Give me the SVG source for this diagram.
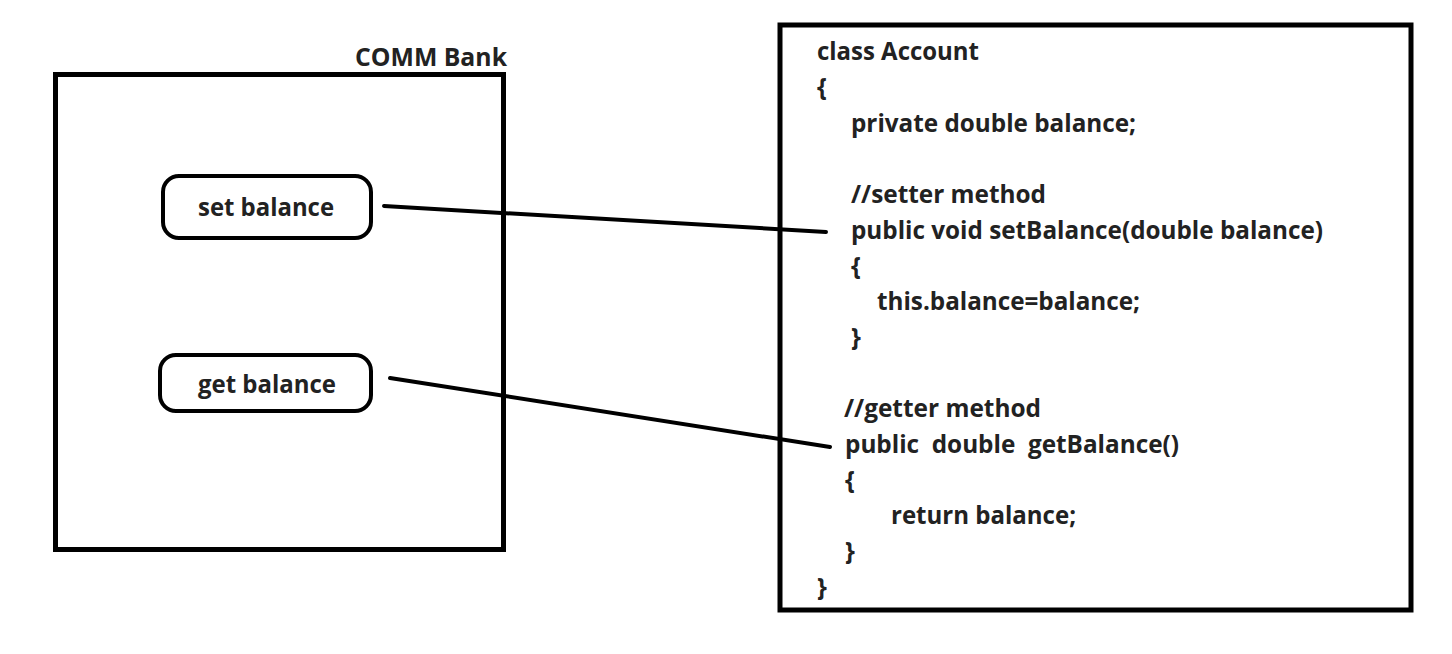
<svg xmlns="http://www.w3.org/2000/svg" width="1452" height="654" viewBox="0 0 1452 654">
<style>
.box{fill:#fff;stroke:#000;stroke-width:5}
.pill{fill:#fff;stroke:#000;stroke-width:4}
.conn{fill:none;stroke:#000;stroke-width:4;stroke-linecap:round}
text{font-family:"Open Sans","Noto Sans","Liberation Sans",sans-serif;font-weight:700;font-size:25px;fill:#222}
</style>
<rect width="1452" height="654" fill="#fff"/>
<g id="comm-bank">
<rect class="box" x="55.5" y="74.5" width="448" height="475"/>
<text x="355" y="66" textLength="152" lengthAdjust="spacingAndGlyphs">COMM Bank</text>
</g>
<g id="set-balance">
<rect class="pill" x="163" y="176" width="208" height="62" rx="16"/>
<text x="198" y="216" textLength="136" lengthAdjust="spacingAndGlyphs">set balance</text>
</g>
<g id="get-balance">
<rect class="pill" x="160" y="355" width="211" height="56" rx="16"/>
<text x="198" y="393" textLength="138" lengthAdjust="spacingAndGlyphs">get balance</text>
</g>
<g id="account-class">
<rect class="box" x="780" y="25" width="631" height="585"/>
<text x="817" y="60" textLength="162" lengthAdjust="spacingAndGlyphs">class Account</text>
<text x="817" y="96">{</text>
<text x="851" y="132" textLength="285" lengthAdjust="spacingAndGlyphs">private double balance;</text>
<text x="851" y="203" textLength="195" lengthAdjust="spacingAndGlyphs">//setter method</text>
<text x="851" y="239" textLength="472" lengthAdjust="spacingAndGlyphs">public void setBalance(double balance)</text>
<text x="851" y="275">{</text>
<text x="877" y="310" textLength="263" lengthAdjust="spacingAndGlyphs">this.balance=balance;</text>
<text x="851" y="346">}</text>
<text x="844" y="417" textLength="197" lengthAdjust="spacingAndGlyphs">//getter method</text>
<text x="845" y="453" xml:space="preserve" textLength="334" lengthAdjust="spacingAndGlyphs">public  double  getBalance()</text>
<text x="845" y="489">{</text>
<text x="891" y="524" textLength="185" lengthAdjust="spacingAndGlyphs">return balance;</text>
<text x="845" y="560">}</text>
<text x="817" y="596">}</text>
</g>
<g id="connectors">
<path class="conn" d="M384,206 L826,232"/>
<path class="conn" d="M390,378 L830,447"/>
</g>
</svg>
